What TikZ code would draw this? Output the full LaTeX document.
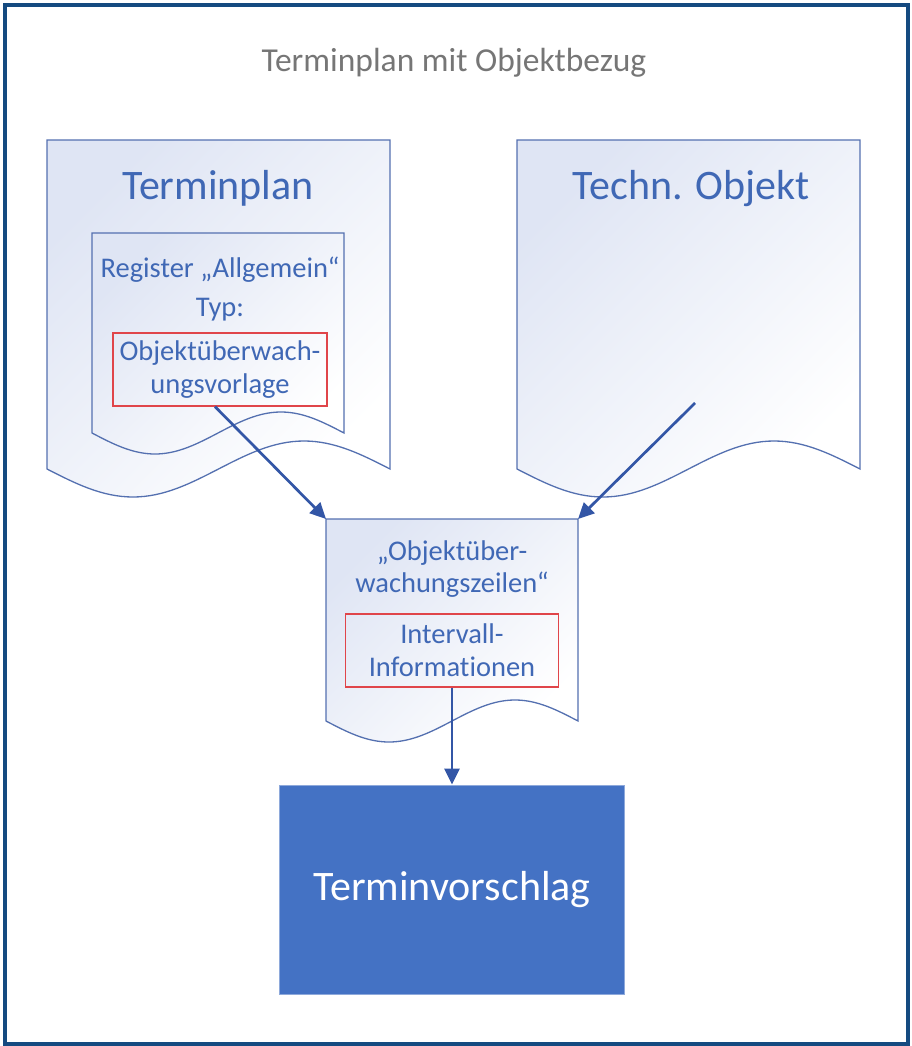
\documentclass[tikz,border=0pt]{standalone}
\usepackage{fontspec}
\setmainfont{Carlito}[Ligatures=NoCommon]
\usetikzlibrary{arrows.meta}
\definecolor{framecol}{HTML}{154A80}
\definecolor{titlegray}{HTML}{767676}
\definecolor{textblue}{HTML}{4068B5}
\definecolor{docline}{HTML}{5470B0}
\definecolor{docfill}{HTML}{DFE5F4}
\definecolor{redline}{HTML}{E0454A}
\definecolor{arrowcol}{HTML}{3356A6}
\definecolor{vorschlagfill}{HTML}{4472C4}
\definecolor{vorschlagline}{HTML}{8EA9DB}
\begin{document}
\begin{tikzpicture}[x=1pt, y=-1pt,
    doc/.style={draw=docline, line width=1.3pt, top color=docfill, middle color=white, bottom color=white, shading angle=45},
    redbox/.style={draw=redline, line width=1.2pt},
    small/.style={text=textblue, font=\fontsize{28.5}{33}\selectfont, align=center, inner sep=0pt},
    big/.style={text=textblue, font=\fontsize{42}{50}\selectfont, inner sep=0pt},
    flow/.style={draw=arrowcol, line width=2.7pt, -{Triangle[length=16pt, width=15pt]}}]
  \useasboundingbox (0,0) rectangle (911,1046);
  \draw[framecol, line width=4pt] (4.5,5) rectangle (907.5,1044);
  \node[anchor=base, text=titlegray, font=\fontsize{33.5}{40}\selectfont] (title) at (454,72) {Terminplan mit Objektbezug};

  \path[doc] (47,140) -- (390,140) -- (390,469) sin (304,441) cos (218.5,469) sin (133,497) cos (47,469) -- cycle;
  \node[big, anchor=base] (plan-head) at (218,199) {Terminplan};
  \path[doc] (92,233) -- (344,233) -- (344,433) sin (281,412) cos (218,433) sin (155,454) cos (92,433) -- cycle;
  \node[small, anchor=base] (register) at (220,277) {Register „Allgemein“};
  \node[small, anchor=base] (typ) at (220,316) {Typ:};
  \node[small, redbox, minimum width=214pt, minimum height=73pt] (vorlage) at (220,369.5) {Objektüberwach-\\ungsvorlage};

  \path[doc] (517,140) -- (860,140) -- (860,469) sin (774,441) cos (688.5,469) sin (603,497) cos (517,469) -- cycle;
  \node[big, anchor=base] (objekt-head) at (691,199) {Techn. Objekt};
  \coordinate (objekt-ref) at (695,403);

  \path[doc] (326,519) -- (578,519) -- (578,721) sin (515,700) cos (452,721) sin (389,742) cos (326,721) -- cycle;
  \coordinate (zeilen-nw) at (326,519);
  \coordinate (zeilen-ne) at (578,519);
  \node[small, anchor=base] (zeilen-a) at (452,560) {„Objektüber-};
  \node[small, anchor=base] (zeilen-b) at (452,592) {wachungszeilen“};
  \node[small, redbox, minimum width=213pt, minimum height=73pt] (intervall) at (452,650.5) {Intervall-\\Informationen};

  \node[fill=vorschlagfill, draw=vorschlagline, line width=1pt, minimum width=345pt, minimum height=209pt, text=white, font=\fontsize{42}{50}\selectfont] (vorschlag) at (452,889.5) {Terminvorschlag};

  \draw[flow] ([xshift=-5pt]vorlage.south) -- (zeilen-nw);
  \draw[flow] (objekt-ref) -- (zeilen-ne);
  \draw[flow] (intervall.south) -- (vorschlag.north);
\end{tikzpicture}
\end{document}
